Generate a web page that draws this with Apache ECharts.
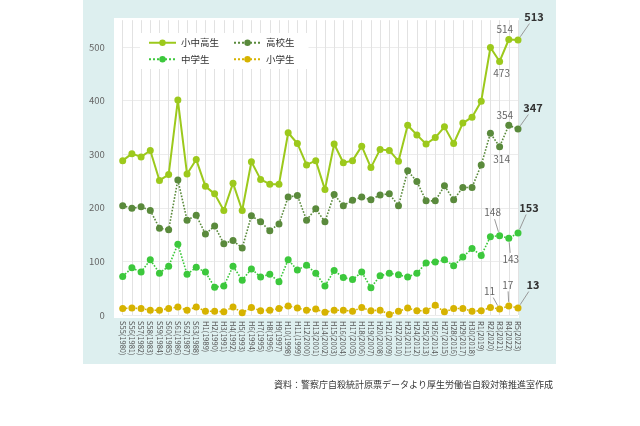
<!DOCTYPE html>
<html>
<head>
<meta charset="utf-8">
<script src="https://cdn.jsdelivr.net/npm/echarts@6/dist/echarts.min.js"></script>
<style>
html,body{margin:0;padding:0;background:#fff;}
#c{width:640px;height:426px;}
</style>
</head>
<body>
<div id="c"></div>
<script>
var categories = ["S55(1980)","S56(1981)","S57(1982)","S58(1983)","S59(1984)","S60(1985)","S61(1986)","S62(1987)","S63(1988)",
"H1(1989)","H2(1990)","H3(1991)","H4(1992)","H5(1993)","H6(1994)","H7(1995)","H8(1996)","H9(1997)","H10(1998)","H11(1999)",
"H12(2000)","H13(2001)","H14(2002)","H15(2003)","H16(2004)","H17(2005)","H18(2006)","H19(2007)","H20(2008)","H21(2009)",
"H22(2010)","H23(2011)","H24(2012)","H25(2013)","H26(2014)","H27(2015)","H28(2016)","H29(2017)","H30(2018)",
"R1(2019)","R2(2020)","R3(2021)","R4(2022)","R5(2023)"];
var totalValues = [288,301,295,307,251,262,401,263,290,240,226,195,246,195,286,253,244,244,340,320,280,288,234,319,284,288,315,275,309,307,287,354,336,319,331,351,320,358,369,399,499,473,514,513];
var highValues = [204,199,202,195,162,159,252,177,186,151,166,133,139,125,185,174,157,170,220,223,177,198,174,225,204,214,220,215,224,226,204,269,249,213,213,241,215,238,238,280,339,314,354,347];
var middleValues = [72,88,80,103,78,91,132,76,89,80,52,54,91,65,86,71,76,62,103,84,93,78,54,83,70,66,80,51,73,78,75,71,78,97,99,103,92,108,124,111,146,148,143,153];
var elemValues = [12,13,12,9,9,12,15,9,15,7,7,6,15,4,14,8,9,12,17,13,9,11,5,9,9,7,14,8,9,1,7,13,8,8,18,6,12,12,7,8,14,11,17,13];
var seriesNames = ["小中高生","高校生","中学生","小学生"];
var yTicks = [0,100,200,300,400,500];
var sourceText = "資料：警察庁自殺統計原票データより厚生労働省自殺対策推進室作成";

var FONT = '"Noto Sans CJK JP", "Noto Sans", sans-serif';
var n = categories.length;

// annotation style for the last three points: [offsetX, offsetY, showLine, bold]
var annTotal = [[2, 12, false, false], [-4, -10, false, false], [16, -23, true, true]];
var annHigh = [[2, 13, false, false], [-4, -10, false, false], [15, -21, true, true]];
var annMid = [[-7, -23, true, false], [2, 21, true, false], [11, -25, true, true]];
var annElem = [[-10, -18, true, false], [-1, -21, true, false], [15, -23, true, true]];

function buildData(values, ann) {
  return values.map(function (v, i) {
    var a = ann[i - (n - 3)];
    if (i >= n - 3 && a) {
      return {
        value: v,
        label: {
          show: true,
          color: a[3] ? '#333' : '#666',
          fontWeight: a[3] ? 'bold' : 'normal',
          fontSize: a[3] ? 11 : 10,
          fontFamily: FONT
        }
      };
    }
    return v;
  });
}
function makeLayout(ann) {
  return function (p) {
    var a = ann[p.dataIndex - (n - 3)];
    if (!a || !p.rect) return {};
    var cx = p.rect.x + p.rect.width / 2, cy = p.rect.y + p.rect.height / 2;
    return { x: cx + a[0], y: cy + a[1], align: 'center', verticalAlign: 'middle' };
  };
}

// leader line data: [categoryIndex, value, dx, dy, labelWidth]
var leaderData = [];
[[totalValues, annTotal], [highValues, annHigh], [middleValues, annMid], [elemValues, annElem]].forEach(function (pair) {
  pair[1].forEach(function (a, k) {
    var i = n - 3 + k;
    if (a[2]) {
      var txt = String(pair[0][i]);
      leaderData.push([i, pair[0][i], a[0], a[1], txt.length * (a[3] ? 6.8 : 6)]);
    }
  });
});

var colors = ['#9cc91c', '#5a8a3c', '#3cc83c', '#d6b300'];

function mkSeries(name, values, color, dotted, ann, z) {
  return {
    name: name,
    type: 'line',
    data: buildData(values, ann),
    symbol: 'circle',
    symbolSize: 7,
    z: z,
    itemStyle: { color: color },
    lineStyle: { color: color, width: dotted ? 1.6 : 2, type: dotted ? 'dotted' : 'solid' },
    label: { show: false },
    labelLayout: makeLayout(ann),
    emphasis: { disabled: true },
    clip: false
  };
}

var chart = echarts.init(document.getElementById('c'));
chart.setOption({
  animation: false,
  textStyle: { fontFamily: FONT },
  graphic: [
    { type: 'rect', silent: true, z: -20, shape: { x: 83, y: 0, width: 473, height: 364 }, style: { fill: '#ddefef' } },
    { type: 'rect', silent: true, z: -19, shape: { x: 114, y: 18, width: 405, height: 300 }, style: { fill: '#ffffff' } }
  ],
  title: {
    text: sourceText,
    right: 82,
    top: 375,
    textStyle: { fontSize: 9, color: '#333', fontWeight: 'normal', fontFamily: FONT }
  },
  grid: { left: 122.7, right: 122, top: 20.2, bottom: 111 },
  legend: [
    {
      data: [seriesNames[0], seriesNames[2]],
      orient: 'vertical', left: 140, top: 33,
      padding: [5, 8, 5, 8], itemGap: 7, itemWidth: 27, itemHeight: 8,
      backgroundColor: '#fff', selectedMode: false,
      textStyle: { fontSize: 9.5, color: '#333', fontFamily: FONT }
    },
    {
      data: [seriesNames[1], seriesNames[3]],
      orient: 'vertical', left: 225, top: 33,
      padding: [5, 14, 5, 8], itemGap: 7, itemWidth: 27, itemHeight: 8,
      backgroundColor: '#fff', selectedMode: false,
      textStyle: { fontSize: 9.5, color: '#333', fontFamily: FONT }
    }
  ],
  xAxis: {
    type: 'category',
    data: categories,
    boundaryGap: false,
    axisLine: { show: false },
    axisTick: { show: false },
    splitLine: { show: true, lineStyle: { color: '#e2e2e2', width: 1 } },
    axisLabel: { interval: 0, rotate: -90, fontSize: 7.5, color: '#555', margin: 6, fontFamily: FONT }
  },
  yAxis: {
    type: 'value',
    min: 0, max: 550, interval: 100,
    axisLine: { show: false },
    axisTick: { show: false },
    splitLine: { show: true, showMaxLine: false, lineStyle: { color: '#ececec', width: 1 } },
    axisLabel: {
      fontSize: 9.5, color: '#666', margin: 18, fontFamily: FONT,
      formatter: function (v) { return yTicks.indexOf(v) >= 0 ? String(v) : ''; }
    }
  },
  series: [
    {
      type: 'custom',
      name: 'leaders',
      z: 7,
      silent: true,
      data: leaderData,
      renderItem: function (params, api) {
        var p = api.coord([api.value(0), api.value(1)]);
        var dx = api.value(2), dy = api.value(3), w = api.value(4), h = 11;
        var len = Math.sqrt(dx * dx + dy * dy);
        var ux = dx / len, uy = dy / len;
        var sx = dx !== 0 ? (w / 2 + 1) / Math.abs(dx) : Infinity;
        var sy = dy !== 0 ? (h / 2 + 1) / Math.abs(dy) : Infinity;
        var s = Math.min(sx, sy);
        var ex = p[0] + dx - dx * s, ey = p[1] + dy - dy * s;
        return {
          type: 'line',
          shape: { x1: p[0] + ux * 4, y1: p[1] + uy * 4, x2: ex, y2: ey },
          style: { stroke: '#999', lineWidth: 1 }
        };
      }
    },
    mkSeries(seriesNames[3], elemValues, colors[3], true, annElem, 3),
    mkSeries(seriesNames[2], middleValues, colors[2], true, annMid, 4),
    mkSeries(seriesNames[1], highValues, colors[1], true, annHigh, 5),
    mkSeries(seriesNames[0], totalValues, colors[0], false, annTotal, 6)
  ]
});
</script>
</body>
</html>
